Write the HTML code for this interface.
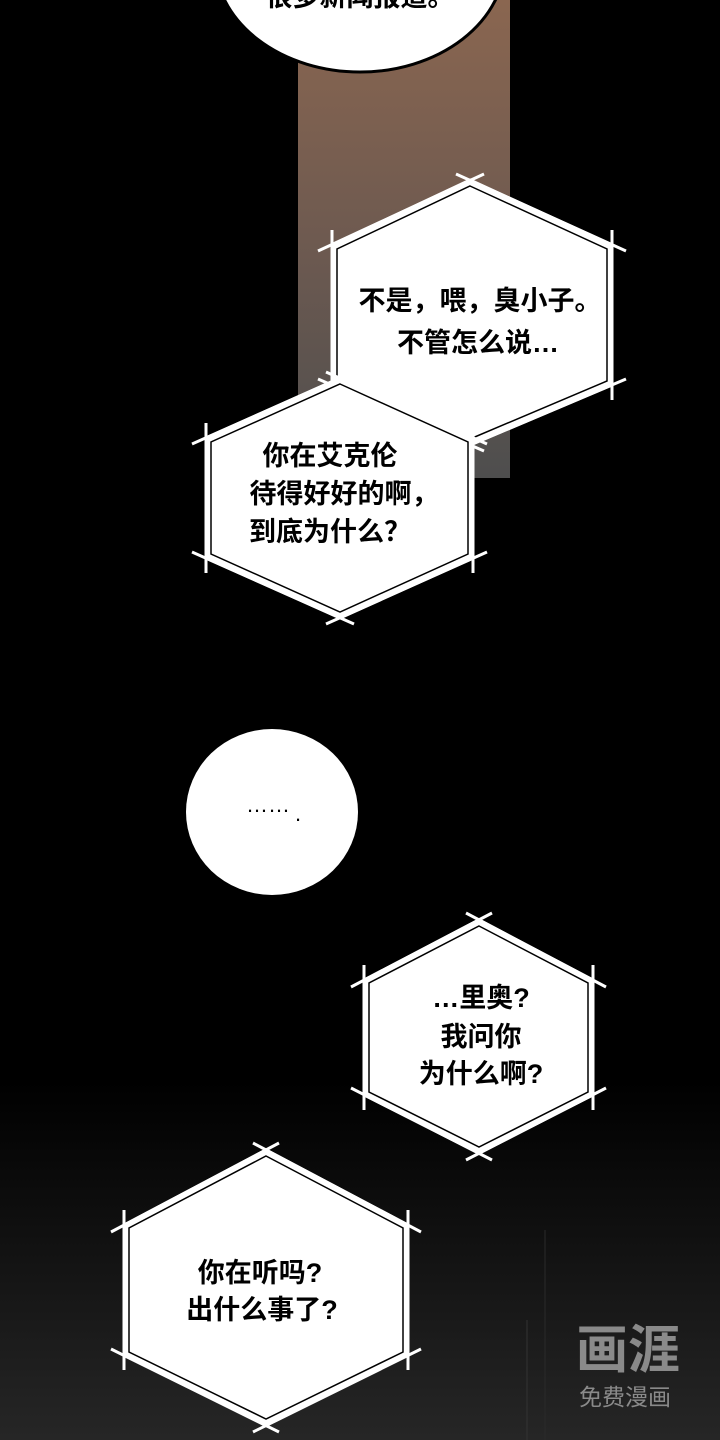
<!DOCTYPE html>
<html><head><meta charset="utf-8"><style>
html,body{margin:0;padding:0;background:#000}
svg{display:block}
text{font-family:"Liberation Sans","Noto Sans CJK SC",sans-serif;fill:#000;text-anchor:middle}
.t{font-size:27px;font-weight:bold}
</style></head><body>
<svg width="720" height="1440" viewBox="0 0 720 1440" xmlns="http://www.w3.org/2000/svg">
<defs>
<linearGradient id="br" x1="0" y1="0" x2="0" y2="1">
<stop offset="0" stop-color="#8a6650"/><stop offset="0.5" stop-color="#6e5a50"/><stop offset="1" stop-color="#4e4e4e"/>
</linearGradient>
<linearGradient id="bg" x1="0" y1="0" x2="0" y2="1">
<stop offset="0" stop-color="#000"/><stop offset="0.75" stop-color="#000"/><stop offset="1" stop-color="#262626"/>
</linearGradient>
</defs>
<rect width="720" height="1440" fill="url(#bg)"/>
<rect x="298" y="0" width="212" height="478" fill="url(#br)"/>

<ellipse cx="360" cy="-40" rx="145" ry="112" fill="#fff" stroke="#000" stroke-width="3"/>
<text x="360" y="6" class="t">很多新闻报道。</text>

<g stroke="#fff" stroke-width="3">
<polygon points="470,180 612,245 612,385 470,445 332,385 332,245" fill="#fff"/>
<line x1="456" y1="174" x2="626" y2="251"/><line x1="612" y1="230" x2="612" y2="400"/>
<line x1="626" y1="379" x2="456" y2="451"/><line x1="484" y1="451" x2="318" y2="379"/>
<line x1="332" y1="400" x2="332" y2="230"/><line x1="318" y1="251" x2="484" y2="174"/>
</g>
<polygon points="470,186 607,249 607,381 470,439 337,381 337,249" fill="none" stroke="#000" stroke-width="1.5"/>
<text x="480" y="310" class="t">不是，喂，臭小子。</text>
<text x="478" y="352" class="t">不管怎么说…</text>

<g stroke="#fff" stroke-width="3">
<polygon points="340,378 473,438 473,558 340,618 206,558 206,438" fill="#fff"/>
<line x1="326" y1="372" x2="487" y2="444"/><line x1="473" y1="423" x2="473" y2="573"/>
<line x1="487" y1="552" x2="326" y2="624"/><line x1="354" y1="624" x2="192" y2="552"/>
<line x1="206" y1="573" x2="206" y2="423"/><line x1="192" y1="444" x2="354" y2="372"/>
</g>
<polygon points="340,384 468,442 468,554 340,612 211,554 211,442" fill="none" stroke="#000" stroke-width="1.5"/>
<text x="330" y="465" class="t">你在艾克伦</text>
<text x="344" y="503" class="t">待得好好的啊，</text>
<text x="330" y="541" class="t">到底为什么？</text>

<ellipse cx="272" cy="812" rx="86" ry="83" fill="#fff"/>
<text x="268" y="812" font-size="22">……</text><text x="298" y="821" font-size="22">.</text>

<g stroke="#fff" stroke-width="3">
<polygon points="479,920 593,980 593,1095 479,1153 364,1095 364,980" fill="#fff"/>
<line x1="466" y1="913" x2="606" y2="987"/><line x1="593" y1="965" x2="593" y2="1110"/>
<line x1="606" y1="1088" x2="466" y2="1160"/><line x1="492" y1="1160" x2="351" y2="1088"/>
<line x1="364" y1="1110" x2="364" y2="965"/><line x1="351" y1="987" x2="492" y2="913"/>
</g>
<polygon points="479,926 588,983 588,1092 479,1147 369,1092 369,983" fill="none" stroke="#000" stroke-width="1.5"/>
<text x="481" y="1007" class="t">…里奥?</text>
<text x="481" y="1046" class="t">我问你</text>
<text x="481" y="1083" class="t">为什么啊?</text>

<g stroke="#fff" stroke-width="3">
<polygon points="266,1150 408,1225 408,1355 266,1425 124,1355 124,1225" fill="#fff"/>
<line x1="253" y1="1143" x2="421" y2="1232"/><line x1="408" y1="1210" x2="408" y2="1370"/>
<line x1="421" y1="1349" x2="253" y2="1432"/><line x1="279" y1="1432" x2="111" y2="1349"/>
<line x1="124" y1="1370" x2="124" y2="1210"/><line x1="111" y1="1232" x2="279" y2="1143"/>
</g>
<polygon points="266,1156 403,1228 403,1352 266,1419 129,1352 129,1228" fill="none" stroke="#000" stroke-width="1.5"/>
<text x="260" y="1282" class="t">你在听吗?</text>
<text x="262" y="1319" class="t">出什么事了?</text>

<line x1="527" y1="1320" x2="527" y2="1440" stroke="#333" stroke-width="1"/>
<line x1="545" y1="1230" x2="545" y2="1440" stroke="#2a2a2a" stroke-width="1"/>

<text x="628" y="1368" font-size="52" style="fill:#8a8a8a;font-weight:bold">画涯</text>
<text x="625" y="1405" font-size="23" style="fill:#8a8a8a">免费漫画</text>
</svg>
</body></html>
